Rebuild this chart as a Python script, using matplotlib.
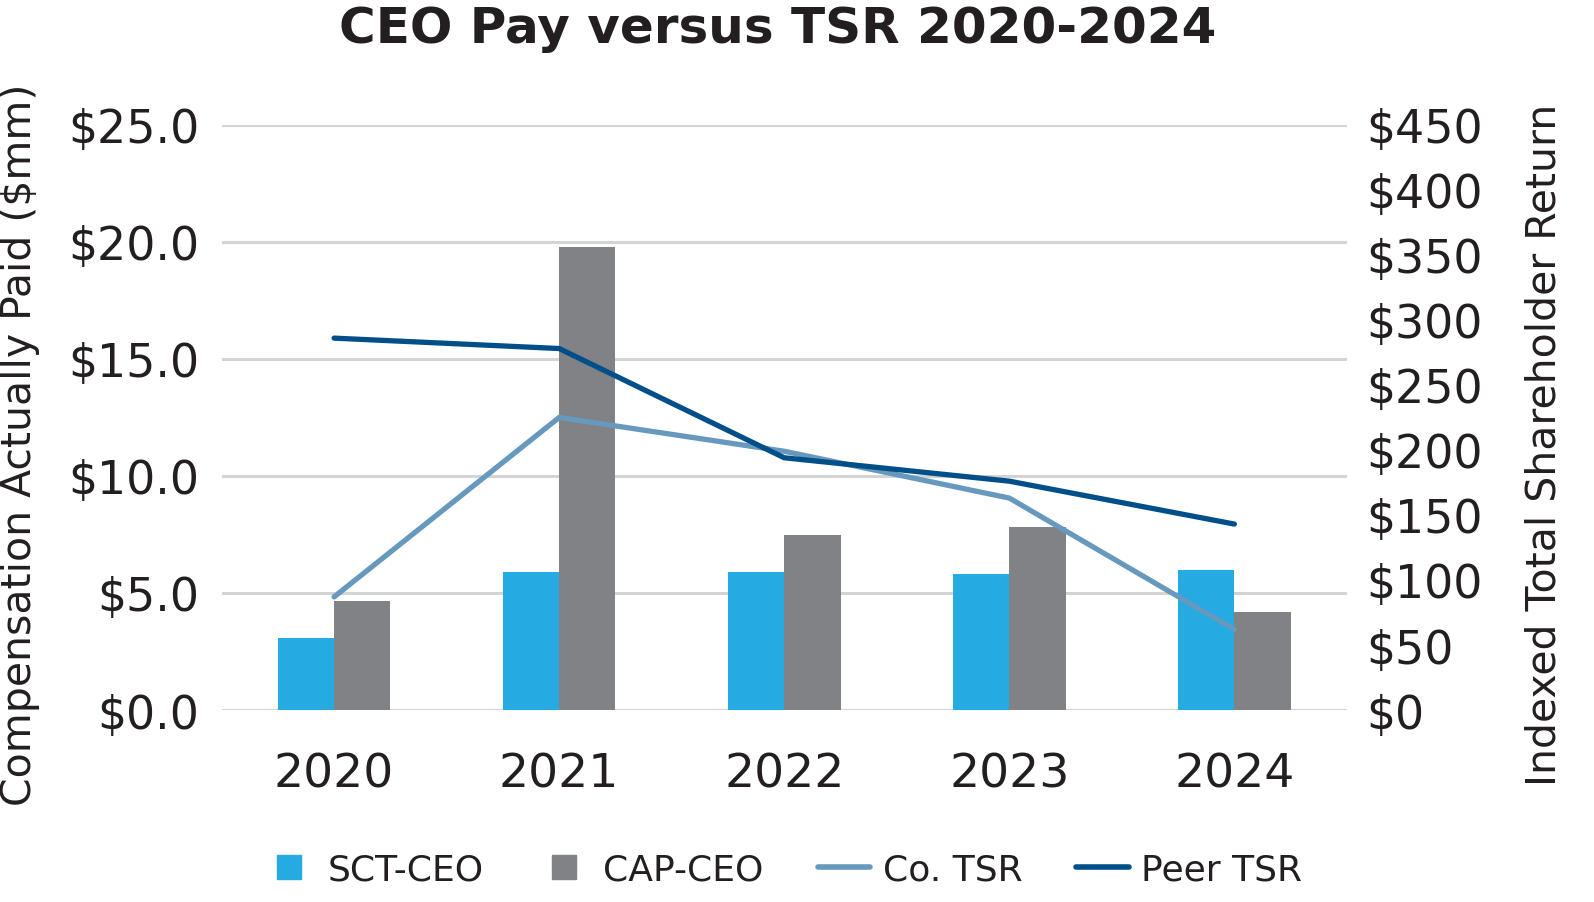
import matplotlib.pyplot as plt
from matplotlib.lines import Line2D
from matplotlib.ticker import FuncFormatter
import numpy as np

years = ['2020', '2021', '2022', '2023', '2024']
sct_ceo = [3.08, 5.89, 5.89, 5.80, 5.98]     # $mm
cap_ceo = [4.67, 19.78, 7.48, 7.80, 4.19]    # $mm
co_tsr = [87, 225, 199, 163, 62]             # indexed $
peer_tsr = [286, 278, 194, 176, 143]         # indexed $

c_sct = '#25AAE1'
c_cap = '#808285'
c_co = '#6798BE'
c_peer = '#004F88'
c_text = '#231F20'

plt.rcParams['font.family'] = ['DejaVu Sans']

fig = plt.figure(figsize=(15.94, 9.03), dpi=100)
ax = fig.add_axes([0.139, 0.2126, 0.706, 0.648])
ax2 = ax.twinx()

x = np.arange(len(years))
w = 0.25
ax.bar(x - w / 2, sct_ceo, w, color=c_sct, zorder=2)
ax.bar(x + w / 2, cap_ceo, w, color=c_cap, zorder=2)

ax2.plot(x, co_tsr, color=c_co, lw=3.8, solid_capstyle='round', solid_joinstyle='miter')
ax2.plot(x, peer_tsr, color=c_peer, lw=3.8, solid_capstyle='round', solid_joinstyle='miter')

ax.set_xlim(-0.5, 4.5)
ax.set_ylim(0, 25)
ax.set_yticks(np.arange(0, 25.1, 5))
ax.yaxis.set_major_formatter(FuncFormatter(lambda v, p: f'${v:.1f}'))
ax2.set_ylim(0, 450)
ax2.set_yticks(np.arange(0, 451, 50))
ax2.yaxis.set_major_formatter(FuncFormatter(lambda v, p: f'${v:.0f}'))

ax.set_xticks(x)
ax.set_xticklabels(years)

ax.grid(axis='y', color='#D4D4D4', lw=2.2, zorder=0)
ax.set_axisbelow(True)
for a in (ax, ax2):
    for s in a.spines.values():
        s.set_visible(False)
    a.tick_params(length=0, labelsize=33, labelcolor=c_text)
ax.tick_params(axis='y', pad=16)
ax.tick_params(axis='x', pad=30, labelsize=34)
ax2.tick_params(axis='y', pad=14)

# axis titles sit a little below the plot centre
ax.set_ylabel('Compensation Actually Paid ($mm)', fontsize=29.5, color=c_text)
ax.yaxis.set_label_coords(-0.161, 0.455)
ax2.set_ylabel('Indexed Total Shareholder Return', fontsize=29.5, color=c_text)
ax2.yaxis.set_label_coords(1.158, 0.455)

fig.text(0.488, 0.968, 'CEO Pay versus TSR 2020-2024', ha='center', va='center',
         fontsize=36, fontweight='bold', color=c_text)

handles = [
    Line2D([], [], marker='s', ls='none', color=c_sct, markersize=17),
    Line2D([], [], marker='s', ls='none', color=c_cap, markersize=17),
    Line2D([], [], color=c_co, lw=4, solid_capstyle='round'),
    Line2D([], [], color=c_peer, lw=4, solid_capstyle='round'),
]
labels = ['SCT-CEO', 'CAP-CEO', 'Co. TSR', 'Peer TSR']
fig.legend(handles, labels, loc='center', bbox_to_anchor=(0.491, 0.036), ncol=4,
           frameon=False, fontsize=26, handlelength=1.45, handletextpad=0.35,
           columnspacing=1.5, labelcolor=c_text)

fig.savefig('out.png', dpi=100)
